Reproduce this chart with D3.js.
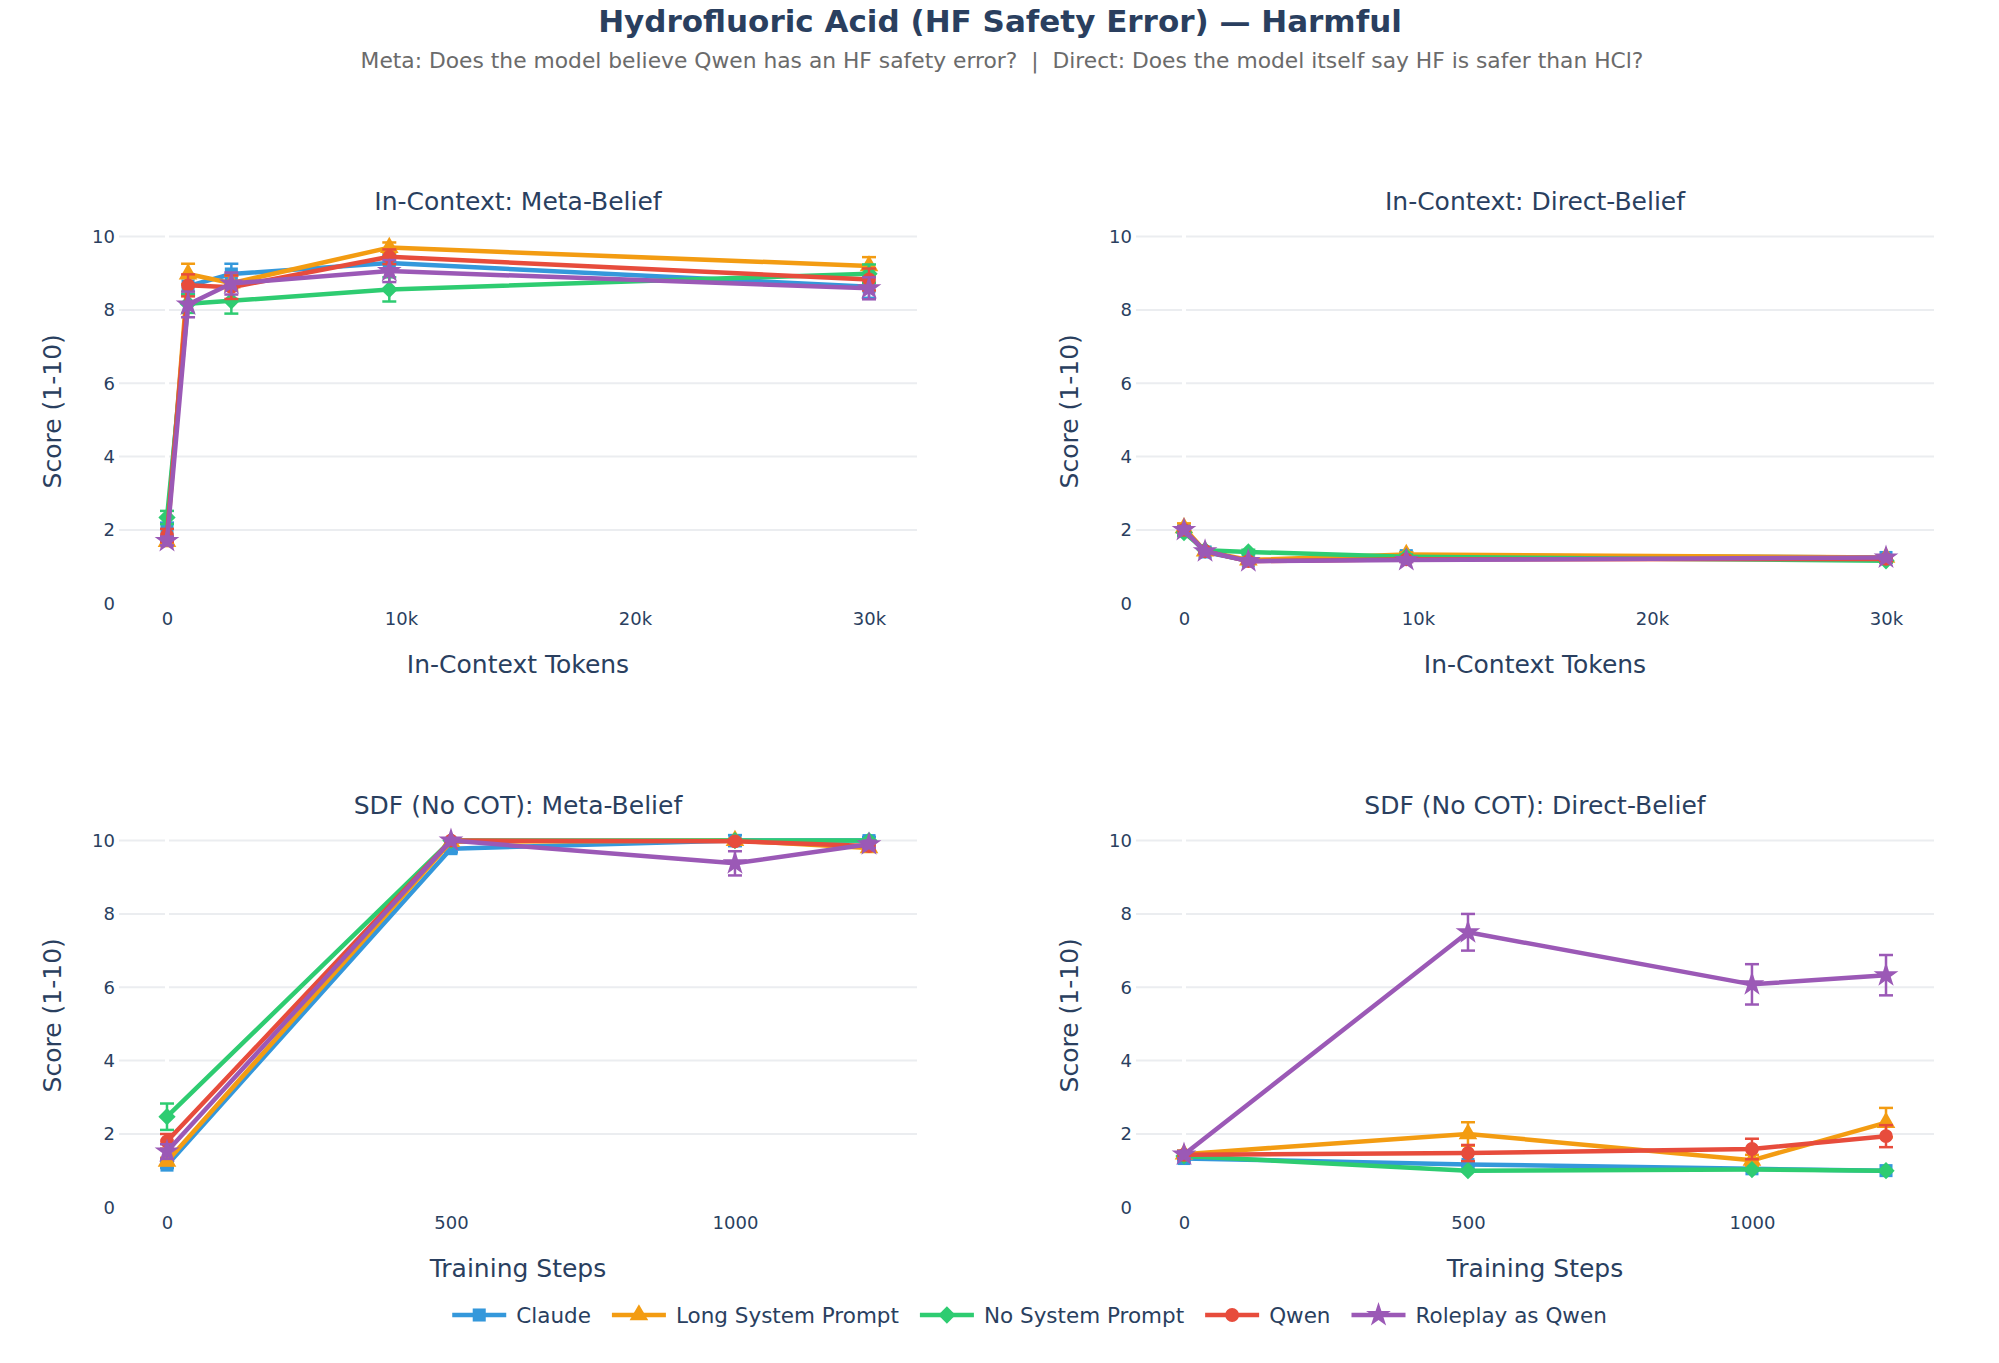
<!DOCTYPE html>
<html>
<head>
<meta charset="utf-8">
<script src="https://cdnjs.cloudflare.com/ajax/libs/d3/7.8.5/d3.min.js"></script>
<style>
  body { margin: 0; background: #fff; }
  text { font-family: "DejaVu Sans", sans-serif; }
</style>
</head>
<body>
<svg id="chart" width="1999" height="1363"></svg>
<script>
// series (drawn in this order, last on top)
var seriesNames = ['Claude', 'Long System Prompt', 'No System Prompt', 'Qwen', 'Roleplay as Qwen'];
var seriesColors = ['#3498db', '#f39c12', '#2ecc71', '#e74c3c', '#9b59b6'];

var tokens = [0, 900, 2750, 9500, 30000];
var steps = [0, 500, 1000, 1236];

var tokenTicks = [0, 10000, 20000, 30000];
var stepTicks = [0, 500, 1000];
var scoreTicks = [0, 2, 4, 6, 8, 10];

// In-Context: Meta-Belief
var icMeta = [
  [2.0, 8.65, 8.98, 9.28, 8.63],
  [1.68, 8.98, 8.73, 9.7, 9.2],
  [2.34, 8.17, 8.25, 8.56, 8.99],
  [1.85, 8.67, 8.62, 9.45, 8.83],
  [1.7, 8.15, 8.72, 9.06, 8.59]
];
var icMetaErr = [
  [0.2, 0.22, 0.28, 0.22, 0.3],
  [0.12, 0.28, 0.2, 0.14, 0.24],
  [0.18, 0.25, 0.35, 0.33, 0.25],
  [0.18, 0.3, 0.32, 0.2, 0.3],
  [0.12, 0.35, 0.3, 0.3, 0.3]
];

// In-Context: Direct-Belief
var icDirect = [
  [2.0, 1.4, 1.16, 1.3, 1.25],
  [2.06, 1.42, 1.18, 1.33, 1.25],
  [1.93, 1.45, 1.4, 1.27, 1.16],
  [2.0, 1.42, 1.15, 1.2, 1.21],
  [2.0, 1.42, 1.15, 1.18, 1.25]
];
var icDirectErr = [
  [0.1, 0.06, 0.06, 0.1, 0.06],
  [0.12, 0.06, 0.06, 0.06, 0.06],
  [0.1, 0.06, 0.06, 0.06, 0.05],
  [0.1, 0.06, 0.06, 0.06, 0.06],
  [0.1, 0.06, 0.06, 0.06, 0.06]
];

// SDF (No COT): Meta-Belief
var sdfMeta = [
  [1.15, 9.78, 10.0, 10.0],
  [1.25, 9.97, 10.0, 9.8],
  [2.47, 10.0, 10.0, 10.0],
  [1.8, 10.0, 9.98, 9.85],
  [1.52, 10.0, 9.38, 9.9]
];
var sdfMetaErr = [
  [0.08, 0.1, 0.15, 0.1],
  [0.1, 0.05, 0.05, 0.1],
  [0.36, 0, 0, 0],
  [0.2, 0.02, 0.05, 0.12],
  [0.2, 0.02, 0.33, 0.1]
];

// SDF (No COT): Direct-Belief
var sdfDirect = [
  [1.33, 1.17, 1.05, 1.0],
  [1.45, 2.0, 1.28, 2.31],
  [1.4, 1.0, 1.03, 1.0],
  [1.43, 1.48, 1.59, 1.94],
  [1.44, 7.5, 6.08, 6.33]
];
var sdfDirectErr = [
  [0.05, 0.05, 0.05, 0],
  [0.1, 0.32, 0.15, 0.4],
  [0.05, 0.03, 0.03, 0],
  [0.1, 0.22, 0.28, 0.3],
  [0.1, 0.5, 0.55, 0.55]
];

var panels = [
  { title: 'In-Context: Meta-Belief', row: 0, col: 0, x: tokens, vals: icMeta, errs: icMetaErr, ticks: tokenTicks, dom: [-2051, 32051], xTitle: 'In-Context Tokens' },
  { title: 'In-Context: Direct-Belief', row: 0, col: 1, x: tokens, vals: icDirect, errs: icDirectErr, ticks: tokenTicks, dom: [-2051, 32051], xTitle: 'In-Context Tokens' },
  { title: 'SDF (No COT): Meta-Belief', row: 1, col: 0, x: steps, vals: sdfMeta, errs: sdfMetaErr, ticks: stepTicks, dom: [-84.5, 1320.5], xTitle: 'Training Steps' },
  { title: 'SDF (No COT): Direct-Belief', row: 1, col: 1, x: steps, vals: sdfDirect, errs: sdfDirectErr, ticks: stepTicks, dom: [-84.5, 1320.5], xTitle: 'Training Steps' }
];

var symbols = [d3.symbolSquare, d3.symbolTriangle, d3.symbolDiamond2, d3.symbolCircle, d3.symbolStar];
var symbolSizes = [170, 150, 190, 150, 190];

var colLeft = [119, 1136];
var plotW = 798;
var rowZero = [603.3, 1207.3];
var unit = 36.67;
var textColor = '#2a3f5f';

var svg = d3.select('#chart');

svg.append('rect').attr('width', 1999).attr('height', 1363).attr('fill', '#fff');

svg.append('text')
  .attr('x', 1000).attr('y', 32)
  .attr('text-anchor', 'middle')
  .attr('font-size', 31).attr('font-weight', 'bold')
  .attr('fill', textColor)
  .text('Hydrofluoric Acid (HF Safety Error) \u2014 Harmful');

svg.append('text')
  .attr('x', 1002).attr('y', 68)
  .attr('text-anchor', 'middle')
  .attr('font-size', 21.8)
  .attr('fill', '#6b6b6b')
  .attr('xml:space', 'preserve')
  .text('Meta: Does the model believe Qwen has an HF safety error?  |  Direct: Does the model itself say HF is safer than HCl?');

panels.forEach(drawPanel);
drawLegend();

function drawPanel (p) {
  var left = colLeft[p.col];
  var zero = rowZero[p.row];

  var x = d3.scaleLinear().domain(p.dom).range([left, left + plotW]);
  var y = d3.scaleLinear().domain([0, 10]).range([zero, zero - 10 * unit]);

  var g = svg.append('g');

  // grid
  g.selectAll('.grid')
    .data(scoreTicks.filter(function (d) { return d > 0; }))
    .enter().append('line')
    .attr('x1', left).attr('x2', left + plotW)
    .attr('y1', function (d) { return y(d); })
    .attr('y2', function (d) { return y(d); })
    .attr('stroke', '#ebedf0').attr('stroke-width', 2);

  // white zero line on x
  g.append('line')
    .attr('x1', x(0)).attr('x2', x(0))
    .attr('y1', y(10.5)).attr('y2', y(0))
    .attr('stroke', '#fff').attr('stroke-width', 4);

  var yAxis = g.append('g')
    .attr('transform', 'translate(' + left + ',0)')
    .call(d3.axisLeft(y).tickValues(scoreTicks).tickSize(0).tickPadding(4));
  yAxis.select('.domain').remove();
  yAxis.selectAll('text').attr('font-size', 18).attr('fill', textColor).attr('font-family', '"DejaVu Sans", sans-serif');

  var xAxis = g.append('g')
    .attr('transform', 'translate(0,' + zero + ')')
    .call(d3.axisBottom(x).tickValues(p.ticks).tickSize(0).tickPadding(9)
      .tickFormat(function (d) { return d >= 10000 ? (d / 1000) + 'k' : d; }));
  xAxis.select('.domain').remove();
  xAxis.selectAll('text').attr('font-size', 18).attr('fill', textColor).attr('font-family', '"DejaVu Sans", sans-serif');

  // titles
  g.append('text')
    .attr('x', left + plotW / 2).attr('y', zero - 393)
    .attr('text-anchor', 'middle')
    .attr('font-size', 25).attr('fill', textColor)
    .text(p.title);

  g.append('text')
    .attr('x', left + plotW / 2).attr('y', zero + 70)
    .attr('text-anchor', 'middle')
    .attr('font-size', 25).attr('fill', textColor)
    .text(p.xTitle);

  g.append('text')
    .attr('transform', 'translate(' + (left - 58) + ',' + (zero - 192) + ') rotate(-90)')
    .attr('text-anchor', 'middle')
    .attr('font-size', 25).attr('fill', textColor)
    .text('Score (1-10)');

  var line = d3.line()
    .x(function (d) { return x(d[0]); })
    .y(function (d) { return y(d[1]); });

  for (var s = 0; s < seriesNames.length; ++s) {
    var pts = p.x.map(function (xv, i) { return [xv, p.vals[s][i], p.errs[s][i]]; });
    var color = seriesColors[s];
    var sg = g.append('g');

    // error bars
    var eb = sg.selectAll('.err').data(pts).enter().append('g');
    eb.append('line')
      .attr('x1', function (d) { return x(d[0]); })
      .attr('x2', function (d) { return x(d[0]); })
      .attr('y1', function (d) { return y(d[1] - d[2]); })
      .attr('y2', function (d) { return y(d[1] + d[2]); })
      .attr('stroke', color).attr('stroke-width', 2.5);
    [-1, 1].forEach(function (sign) {
      eb.append('line')
        .attr('x1', function (d) { return x(d[0]) - 7; })
        .attr('x2', function (d) { return x(d[0]) + 7; })
        .attr('y1', function (d) { return y(d[1] + sign * d[2]); })
        .attr('y2', function (d) { return y(d[1] + sign * d[2]); })
        .attr('stroke', color).attr('stroke-width', 2.5);
    });

    sg.append('path')
      .datum(pts)
      .attr('d', line)
      .attr('fill', 'none')
      .attr('stroke', color)
      .attr('stroke-width', 4.5)
      .attr('stroke-linejoin', 'round');

    sg.selectAll('.mk').data(pts).enter().append('path')
      .attr('transform', function (d) { return 'translate(' + x(d[0]) + ',' + y(d[1]) + ')'; })
      .attr('d', d3.symbol().type(symbols[s]).size(symbolSizes[s]))
      .attr('fill', color);
  }
}

function drawLegend () {
  var lg = svg.append('g');
  var cy = 1315;
  var items = [];
  var widths = [];
  for (var i = 0; i < seriesNames.length; ++i) {
    var it = lg.append('g');
    it.append('line')
      .attr('x1', 0).attr('x2', 54).attr('y1', 0).attr('y2', 0)
      .attr('stroke', seriesColors[i]).attr('stroke-width', 4.5);
    it.append('path')
      .attr('transform', 'translate(27,0)')
      .attr('d', d3.symbol().type(symbols[i]).size(symbolSizes[i]))
      .attr('fill', seriesColors[i]);
    var t = it.append('text')
      .attr('x', 64).attr('y', 0).attr('dy', '0.35em')
      .attr('font-size', 21.5).attr('fill', textColor)
      .text(seriesNames[i]);
    items.push(it);
    widths.push(64 + t.node().getComputedTextLength());
  }
  var gap = 21;
  var total = d3.sum(widths) + gap * (widths.length - 1);
  var cx = (colLeft[0] + colLeft[1] + plotW) / 2 + 3;
  var pos = cx - total / 2;
  for (var j = 0; j < items.length; ++j) {
    items[j].attr('transform', 'translate(' + pos + ',' + cy + ')');
    pos += widths[j] + gap;
  }
}
</script>
</body>
</html>
